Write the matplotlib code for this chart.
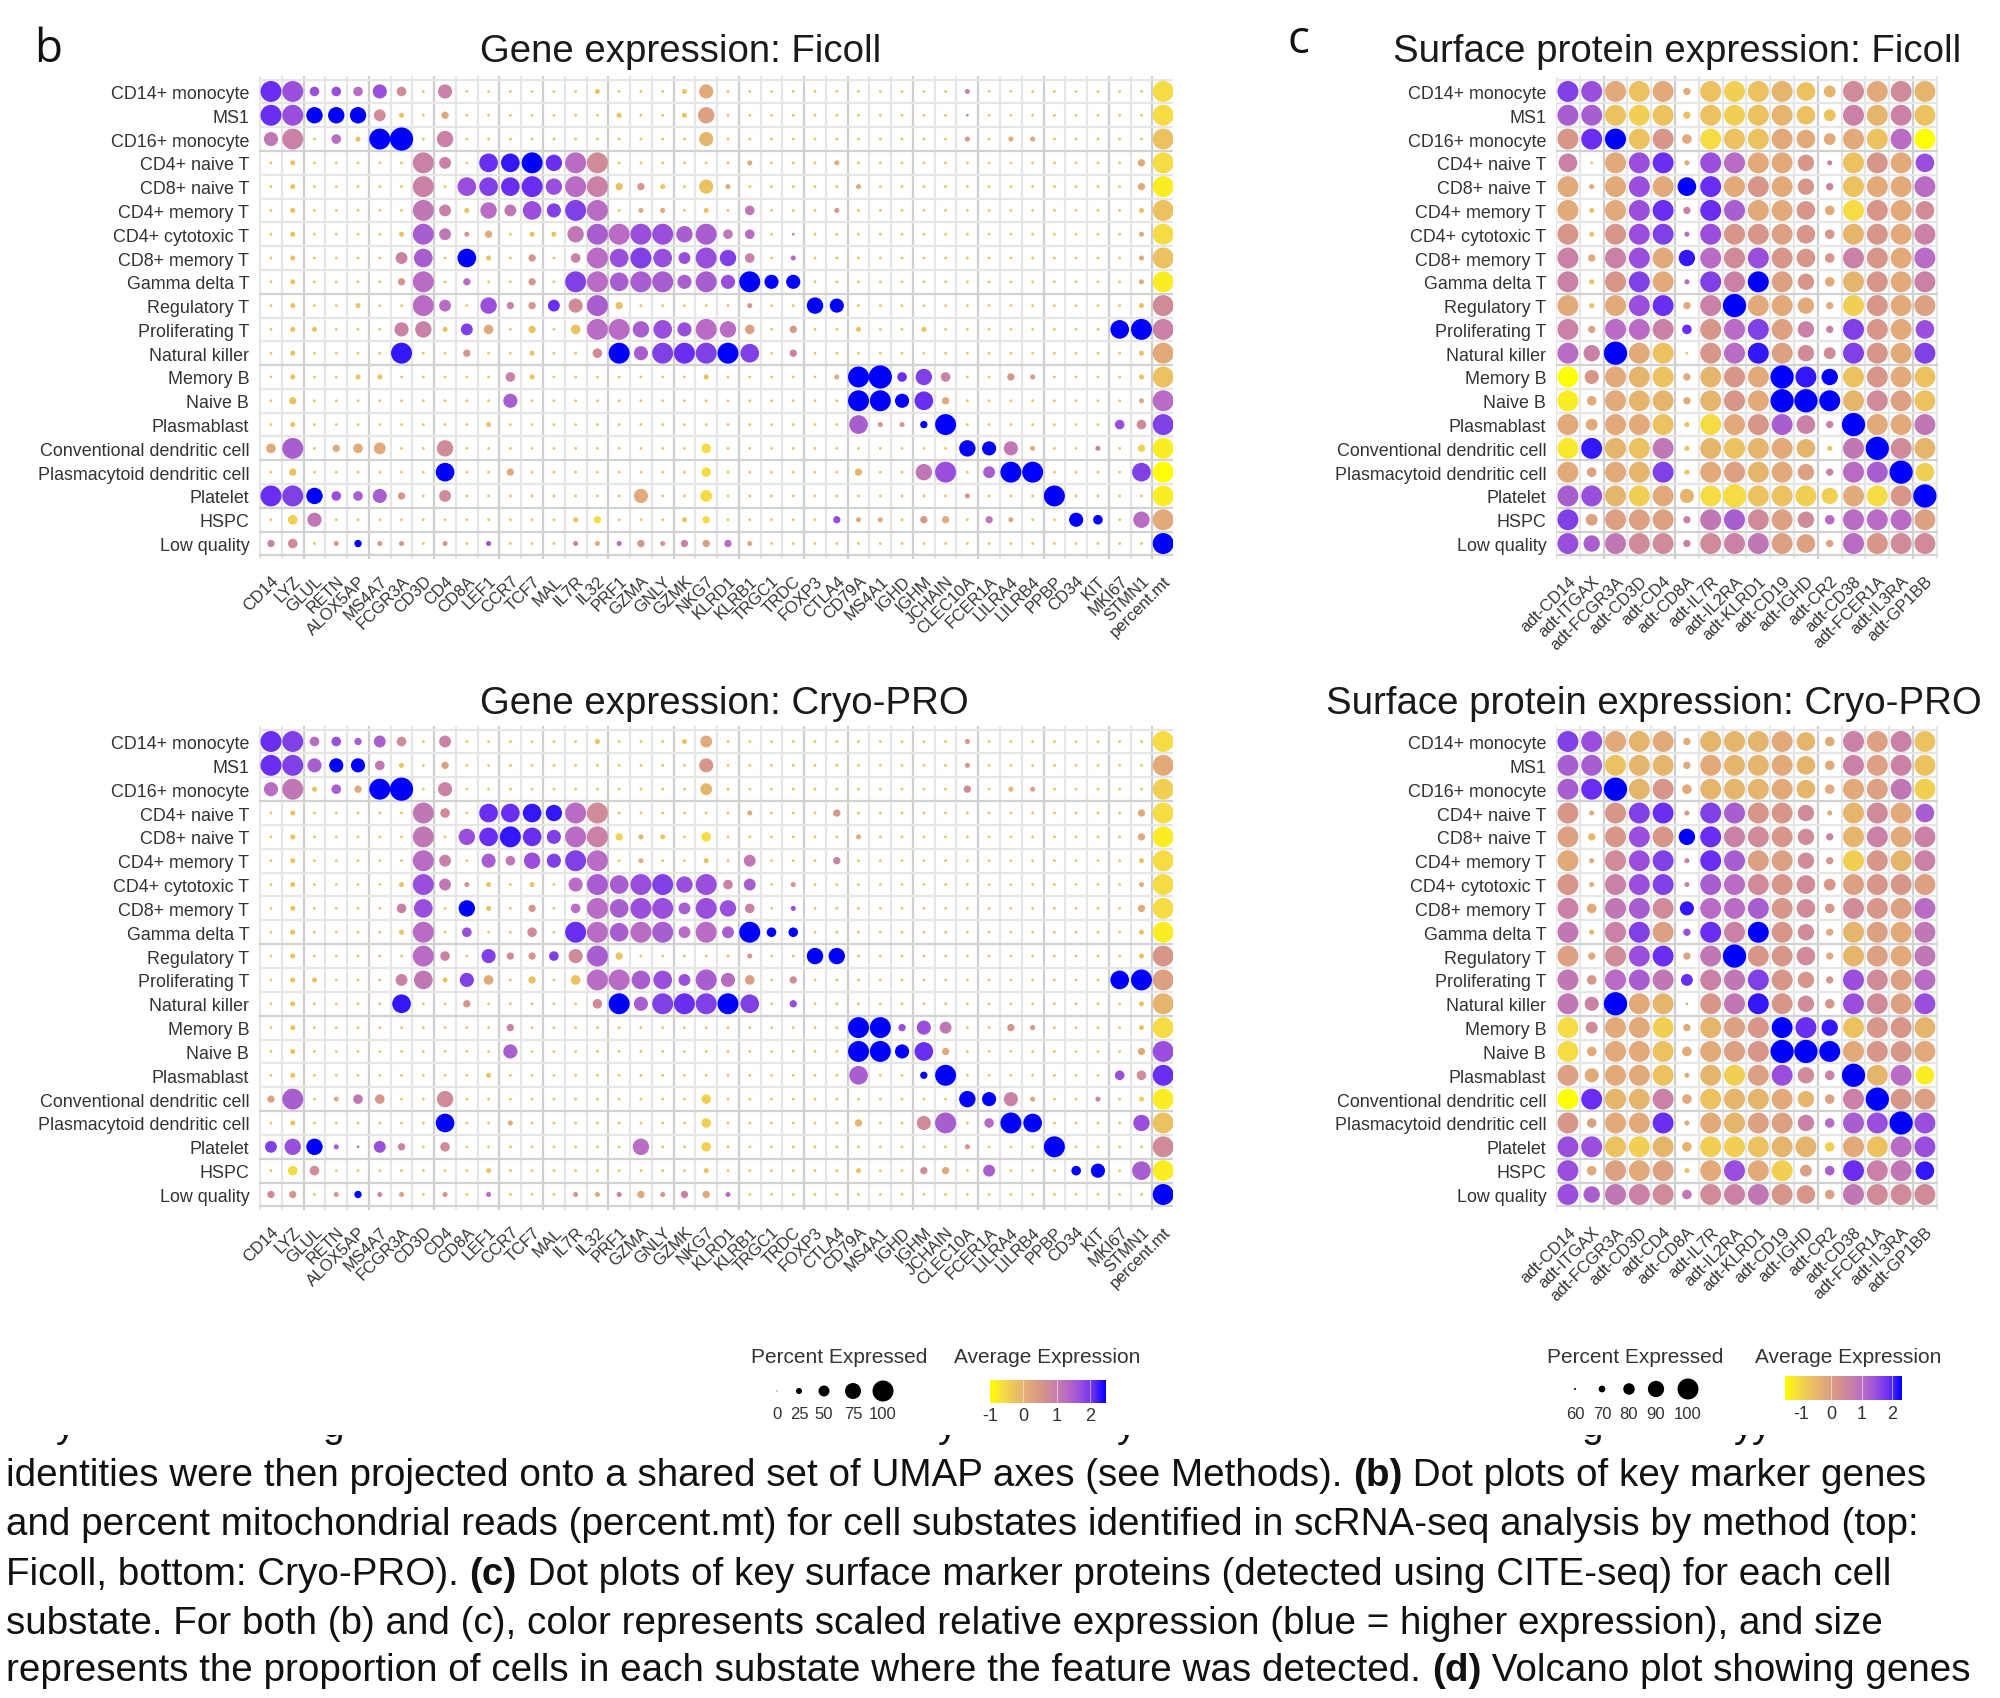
import matplotlib
matplotlib.use("Agg")
import matplotlib.pyplot as plt
import numpy as np
from matplotlib.colors import LinearSegmentedColormap
from matplotlib.transforms import Bbox

W, H = 2000, 1699
plt.rcParams['font.family'] = ['Liberation Sans', 'DejaVu Sans']

cell_types = ["CD14+ monocyte", "MS1", "CD16+ monocyte", "CD4+ naive T", "CD8+ naive T", "CD4+ memory T",
              "CD4+ cytotoxic T", "CD8+ memory T", "Gamma delta T", "Regulatory T", "Proliferating T",
              "Natural killer", "Memory B", "Naive B", "Plasmablast", "Conventional dendritic cell",
              "Plasmacytoid dendritic cell", "Platelet", "HSPC", "Low quality"]
genes = ["CD14", "LYZ", "GLUL", "RETN", "ALOX5AP", "MS4A7", "FCGR3A", "CD3D", "CD4", "CD8A", "LEF1", "CCR7", "TCF7",
         "MAL", "IL7R", "IL32", "PRF1", "GZMA", "GNLY", "GZMK", "NKG7", "KLRD1", "KLRB1", "TRGC1", "TRDC", "FOXP3",
         "CTLA4", "CD79A", "MS4A1", "IGHD", "IGHM", "JCHAIN", "CLEC10A", "FCER1A", "LILRA4", "LILRB4", "PPBP",
         "CD34", "KIT", "MKI67", "STMN1", "percent.mt"]
proteins = ["adt-CD14", "adt-ITGAX", "adt-FCGR3A", "adt-CD3D", "adt-CD4", "adt-CD8A", "adt-IL7R", "adt-IL2RA",
            "adt-KLRD1", "adt-CD19", "adt-IGHD", "adt-CR2", "adt-CD38", "adt-FCER1A", "adt-IL3RA", "adt-GP1BB"]

# Gene panels: per row (gene number, size class 0-9, colour class 0-9); every other cell is a background dot
gene_ficoll = [
 [(1,8,8),(2,8,7),(3,3,7),(4,3,7),(5,3,6),(6,5,7),(7,3,4.5),(9,5,5),(16,1,2),(20,1,2),(21,5,3),(33,1,5),(42,8,1)],
 [(1,8,8),(2,8,7),(3,6,9),(4,6,9),(5,6,9),(6,4,4.5),(7,1,2),(9,2,3),(17,1,2),(20,1,2),(21,6,3.5),(33,0,5),(42,8,1)],
 [(1,5,5.5),(2,8,5),(4,3,6),(5,1,2),(6,8,9),(7,9,9),(9,6,5),(21,5,2.5),(33,1,4),(35,1,3),(36,1,3),(42,8,2)],
 [(2,1,2),(8,8,5),(9,4,5),(11,7,8),(12,7,8.5),(13,8,9),(14,6,8),(15,8,6),(16,8,4.5),(23,1,3),(27,1,3),(41,2,3),(42,8,1)],
 [(2,1,2),(8,8,5),(10,7,7),(11,7,7.5),(12,7,8),(13,8,8),(14,6,7),(15,8,6),(16,8,5),(17,2,2),(18,2,4),(19,1,2),(21,5,2),(22,1,3),(28,1,3),(41,2,3),(42,8,0.5)],
 [(2,1,2),(8,8,5.5),(9,4,5),(10,1,2),(11,6,6),(12,4,5.5),(13,7,7),(14,5,7.5),(15,8,7.5),(16,8,6),(18,1,3),(19,1,3),(21,1,2),(23,3,5.5),(27,1,4),(41,1,2),(42,8,2)],
 [(2,1,2),(7,1,2),(8,8,6.5),(9,4,5.5),(10,1,4),(11,2,3),(13,1,2),(14,1,2),(15,6,5.5),(16,8,6.5),(17,8,6),(18,8,7),(19,8,7),(20,6,6.5),(21,8,6.5),(22,3,5.5),(23,3,6),(25,0,5),(41,1,3),(42,8,1)],
 [(2,1,2),(7,4,5),(8,7,6.5),(10,7,9),(11,1,2),(13,2,4),(15,3,5),(16,8,6),(17,7,7),(18,8,7.5),(19,7,7),(20,4,7),(21,8,7),(22,6,7.5),(23,3,5),(25,1,6),(41,1,3),(42,8,2)],
 [(2,1,2),(7,2,4),(8,8,6),(10,2,6),(13,2,4),(15,8,7.5),(16,8,6),(17,7,6.5),(18,8,6.5),(19,8,6.5),(20,5,6.5),(21,8,6.5),(22,5,7),(23,8,9),(24,5,9),(25,5,9),(41,1,3),(42,8,0.5)],
 [(2,1,2),(5,1,2),(8,8,6),(9,4,6),(11,6,7),(12,2,5),(13,2,4),(14,4,8),(15,5,4.5),(16,8,6.5),(17,2,2),(23,1,4),(26,6,9),(27,5,9),(41,1,2),(42,8,4.5)],
 [(2,1,2),(3,1,2),(7,5,5),(8,6,5),(9,1,2),(10,4,7.5),(11,3,3),(13,2,2),(15,3,2),(16,8,6),(17,8,6),(18,6,6.5),(19,7,7),(20,5,7),(21,8,6),(22,6,6),(23,3,3.5),(25,2,4),(28,1,2),(31,1,2),(40,7,9),(41,8,9),(42,8,5)],
 [(2,1,2),(7,8,8.5),(10,2,4),(13,1,2),(16,3,4.5),(17,8,9),(18,5,6.5),(19,8,7.5),(20,8,8),(21,8,7.5),(22,8,9),(23,7,7.5),(25,2,5),(41,1,2),(42,8,3)],
 [(2,1,2),(5,1,2),(6,1,2),(12,3,5),(13,1,2),(21,1,2),(27,1,3),(28,8,9),(29,9,9),(30,3,8),(31,6,7.5),(32,3,5),(35,2,4),(36,1,4),(41,1,2),(42,8,2)],
 [(2,2,2),(12,5,6.5),(28,8,9),(29,8,9),(30,5,9),(31,7,8),(32,2,3),(41,1,3),(42,8,6)],
 [(2,1,2),(11,1,2),(28,7,6.5),(29,1,4),(30,1,4),(31,2,9),(32,8,9),(40,3,7),(41,3,4.5),(42,8,7.5)],
 [(1,3,3),(2,8,6.5),(4,2,3),(5,3,3),(6,4,3),(9,6,4.5),(21,3,1),(33,6,9),(34,5,9),(35,5,5.5),(36,1,3),(39,1,5),(41,2,1.5),(42,8,0.5)],
 [(2,2,2),(9,7,9),(12,2,3),(21,3,1),(28,2,2.5),(31,6,5.5),(32,8,7),(34,4,6.5),(35,8,9),(36,8,9),(41,7,7.5),(42,8,0)],
 [(1,8,8),(2,8,7.5),(3,6,9),(4,3,7),(5,3,6.5),(6,5,6.5),(7,2,4),(9,4,4.5),(18,5,3),(21,4,1),(33,1,4),(37,8,9),(42,8,0.5)],
 [(2,3,1.5),(3,5,5.5),(15,1,2),(16,2,1),(20,1,2),(21,2,1),(27,2,7),(28,1,3),(29,1,3),(31,2,4),(32,2,3),(34,2,5.5),(35,1,3),(38,5,9),(39,3,9),(41,6,6),(42,8,3)],
 [(1,2,5),(2,3,4.5),(4,1,4),(5,2,9),(6,1,4),(7,1,4),(9,1,4),(11,1,7),(15,1,5),(16,1,3),(17,1,6),(18,2,4),(19,1,4),(20,2,5),(21,2,3.5),(22,2,6),(23,1,3),(42,8,9)],
]
gene_cryo = [
 [(1,8,8),(2,8,7.5),(3,3,6),(4,3,7),(5,2,6.5),(6,4,6.5),(7,3,4.5),(9,4,5),(16,1,2),(20,1,2),(21,4,3),(33,1,4),(42,8,1)],
 [(1,8,8),(2,8,7.5),(3,5,6.5),(4,5,9),(5,5,9),(6,3,5.5),(7,1,2),(9,2,3.5),(21,5,4),(33,1,4),(42,8,3)],
 [(1,5,6),(2,8,5.5),(3,1,2),(4,3,6.5),(5,2,3),(6,8,9),(7,9,9),(9,5,5),(21,4,2.5),(33,2,4.5),(35,1,2.5),(36,1,3.5),(42,8,1.5)],
 [(2,1,2),(8,8,5.5),(9,3,4.5),(11,7,8),(12,7,8),(13,7,8.5),(14,6,8.5),(15,8,6),(16,8,4.5),(23,1,3),(27,2,4),(41,2,3),(42,8,1)],
 [(2,1,2),(8,8,5.5),(10,6,7),(11,7,8),(12,8,8.5),(13,7,8),(14,5,7.5),(15,8,6),(16,8,5),(17,2,1.5),(18,1,2.5),(19,1,2),(21,3,1),(28,1,3),(41,2,3),(42,8,0.5)],
 [(2,1,2),(8,8,6),(9,4,5),(11,5,6.5),(12,3,5.5),(13,6,7),(14,5,7.5),(15,8,7.5),(16,8,6),(18,1,3),(21,1,2),(23,4,5.5),(27,2,5),(41,1,2),(42,8,1)],
 [(2,1,2),(7,1,2),(8,8,7),(9,4,5.5),(10,1,4),(11,1,2),(13,1,2),(15,5,6),(16,8,6.5),(17,7,6.5),(18,8,7),(19,8,7.5),(20,6,7),(21,8,7),(22,3,5),(23,4,6.5),(25,1,4),(41,1,3),(42,8,1)],
 [(2,1,2),(7,3,5),(8,7,7),(10,6,9),(11,1,2),(13,2,4),(15,3,6),(16,8,6),(17,7,6.5),(18,8,7),(19,8,7),(20,4,6.5),(21,8,7),(22,6,7),(23,3,5),(25,1,7),(41,2,3),(42,8,1)],
 [(2,1,2),(7,1,2),(8,8,6),(10,3,7),(13,3,4.5),(15,8,8),(16,8,6),(17,7,6.5),(18,8,6),(19,8,6.5),(20,4,6),(21,8,6),(22,4,6.5),(23,8,9),(24,3,9),(25,3,9),(41,1,2),(42,8,0.5)],
 [(2,1,2),(8,8,6),(9,3,5),(11,5,7.5),(12,2,4.5),(13,2,4),(14,3,7.5),(15,5,4.5),(16,8,6.5),(17,2,2),(23,1,4),(26,6,9),(27,6,9),(41,1,2),(42,8,4)],
 [(2,1,2),(3,1,2),(7,4,5),(8,7,5.5),(9,1,2),(10,5,7.5),(11,3,3),(13,2,2),(15,3,2),(16,8,6),(17,8,6),(18,7,6.5),(19,7,7),(20,4,7),(21,8,6.5),(22,5,6),(23,3,3.5),(25,2,4.5),(40,7,9),(41,8,9),(42,8,3.5)],
 [(2,1,2),(7,7,8.5),(10,2,4),(16,3,4.5),(17,8,9),(18,5,6.5),(19,8,7.5),(20,8,8),(21,8,7.5),(22,8,9),(23,7,7.5),(25,2,7),(41,1,2),(42,8,2.5)],
 [(2,1,2),(12,2,5),(28,8,9),(29,8,9),(30,2,7),(31,5,7),(32,4,5.5),(35,2,4),(36,1,4),(41,1,2),(42,8,1)],
 [(2,1,2),(12,5,6.5),(28,8,9),(29,8,9),(30,5,9),(31,7,8),(32,2,3),(41,2,3),(42,8,7)],
 [(2,1,2),(11,1,2),(28,7,6.5),(31,2,9),(32,8,9),(40,3,7),(41,3,4.5),(42,8,8)],
 [(1,2,3.5),(2,8,6.5),(4,1,3),(5,3,5.5),(6,3,4),(9,6,4.5),(21,3,1.5),(33,6,9),(34,5,9),(35,5,5),(36,1,3),(39,1,5),(41,1,1.5),(42,8,0.5)],
 [(2,1,2),(9,7,9),(12,1,3),(21,3,1.5),(28,2,2.5),(31,5,4.5),(32,8,6.5),(34,3,6),(35,8,9),(36,7,9),(41,6,7),(42,8,2)],
 [(1,4,7.5),(2,6,7),(3,6,9),(4,1,6.5),(5,0,5),(6,4,7),(7,2,5),(9,3,4.5),(18,6,6),(21,3,1.5),(33,1,4),(37,8,9),(42,8,4.5)],
 [(2,3,1),(3,3,4.5),(11,1,2),(21,1,2),(28,1,2),(31,2,4.5),(32,2,3),(34,4,6.5),(38,3,9),(39,5,9),(41,7,6.5),(42,8,0.5)],
 [(1,2,4.5),(2,2,4),(4,1,4),(5,2,9),(6,1,4.5),(7,1,3.5),(9,1,4),(11,1,6),(15,1,4),(16,1,3),(17,1,5),(18,2,3),(19,1,4),(20,2,5),(21,2,3),(22,1,6),(42,8,9)],
]

# Protein panels: one row per cell type, 16 size classes and 16 colour classes
prot_ficoll_size = [
 [8,8,8,8,8,2,8,8,8,8,7,4,8,8,8,8],[8,8,8,8,8,2,8,8,8,8,7,4,8,8,8,8],[8,8,8,8,8,3,8,8,8,8,7,4,8,8,8,8],
 [7,0,8,8,8,1,8,8,8,8,6,1,8,8,8,7],[8,1,8,8,8,7,8,8,8,8,6,2,8,8,8,8],[8,1,8,8,8,2,8,8,8,8,7,3,8,8,8,7],
 [8,1,8,8,8,1,8,8,8,8,7,3,8,8,8,8],[8,2,8,8,8,6,8,8,8,8,7,3,8,8,8,8],[8,1,8,8,8,1,8,8,8,8,6,3,8,8,8,8],
 [8,1,8,8,8,2,8,9,8,8,6,2,8,8,8,8],[8,2,8,8,8,3,8,8,8,8,6,2,8,8,8,7],[8,6,9,8,8,0,8,8,8,8,6,4,8,8,8,8],
 [8,5,8,8,8,2,8,8,8,9,8,6,8,8,8,8],[8,3,8,8,8,2,8,8,8,9,9,8,8,8,8,8],[8,4,8,8,8,1,8,8,8,8,7,2,9,8,8,8],
 [8,8,8,8,8,1,8,8,8,8,7,1,8,9,8,8],[8,3,8,8,8,1,8,8,8,8,6,2,8,8,9,7],[8,8,8,8,8,5,8,9,8,8,8,6,8,8,8,9],
 [8,4,8,8,8,2,8,8,8,8,6,3,8,8,8,8],[8,6,8,8,8,2,8,8,8,8,7,2,8,8,8,8]]
prot_ficoll_color = [
 [7.5,7,3,2,3,3,2,1.5,2,2.5,2,2.5,4.5,3,4.5,2.5],[6.5,6.5,2,1.5,2,2,2,1.5,2,2.5,2,2,5,2.5,5,2],
 [4,8,9,2,4,3,1,2,2,3,3,3,3,2,6,0],[5,2,3,7,8,3,7,6,3,3,4,5,2,4,3,7],[3,3,3,7,3,9,8,3,4,3,4,5,2,3,3,6],
 [3,2,3,7,8,5,8,6.5,3,3,4,3,1,4,3,4.5],[4,2,4,7,7.5,6,7,4,4,3.5,4,4,2.5,4,3,5],[5,3,5,7,3,8.5,6,4.5,7,4,4,4,5,4,3,6],
 [5,2,4,7.5,3,6,7.5,5,9,3.5,4,3,2.5,4,3,5],[3,2,3,7,8,3,5,9,3,3,3,3,1.5,4,3,3.5],[5,3.5,6,6,5,8,4,6,7.5,3.5,5,5,7.5,4,3,7],
 [6,5,9,3,2,2,4,6,8.5,3.5,4.5,4.5,7.5,4,3,7.5],[0,4,3,2.5,2,3,2.5,4,3,9,8.5,9,2,4,3,2],[0.5,3,3,2.5,2.5,3,2.5,4,3,9,9,9,2.5,4.5,3.5,2],
 [3,3,3,3,2,2,1,3,4,6.5,5,5,9,3,3,5.5],[0.7,8.5,2.5,2,5.5,2,2.5,2,2.5,3,2.5,2,5.5,9,4.5,2.5],[3,3.5,3,2.5,7.5,2,3,3.5,2.5,3,3.5,5,6,6.5,9,1.5],
 [6.5,7,2.5,1.5,3,2.5,1,1,2,2,1.5,1.5,3,1,4,9],[7.5,3.5,3.5,3.5,3.5,5,5.5,6.5,4.5,3.5,4.5,6,6,6,6,3.5],[7,6.5,5.5,4.5,4.5,5,4.5,5,5.5,3.5,3.5,3.5,6,4,4.5,4.5]]
prot_cryo_size = [
 [8,8,8,8,8,2,8,8,8,8,7,3,8,8,8,8],[8,8,8,8,8,2,8,8,8,8,7,3,8,8,8,8],[8,8,9,8,8,3,8,8,8,8,7,3,8,8,8,8],
 [8,1,8,8,8,1,8,8,8,8,6,1,8,8,8,7],[8,2,8,8,8,6,8,8,8,8,6,2,8,8,8,8],[8,1,8,8,8,1,8,8,8,8,6,2,8,8,8,8],
 [8,1,8,8,8,1,8,8,8,8,7,4,8,8,8,8],[8,3,8,8,8,5,8,8,8,8,7,3,8,8,8,8],[8,1,8,8,8,2,8,8,8,8,6,2,8,8,8,8],
 [8,2,8,8,8,2,8,9,8,8,7,2,8,8,8,8],[8,3,8,8,8,4,8,8,8,8,6,2,8,8,8,8],[8,5,9,8,8,0,8,8,8,8,6,3,8,8,8,8],
 [8,4,8,8,8,2,8,8,8,8,8,6,8,8,8,8],[8,3,8,8,8,3,8,8,8,9,9,8,8,8,8,8],[8,5,8,8,8,1,8,8,8,8,6,3,9,8,8,7],
 [8,8,8,8,8,3,8,8,8,8,6,3,8,9,8,8],[8,3,8,8,8,1,8,8,8,8,6,3,8,8,9,8],[8,8,8,8,8,3,8,8,8,8,8,3,8,8,8,8],
 [8,3,8,8,8,1,8,8,8,8,4,3,8,8,8,7],[8,6,8,8,8,3,8,8,8,8,7,3,8,8,8,8]]
prot_cryo_color = [
 [7.5,7,3,2.5,3,3,2.5,2.5,2.5,3,2.5,3,5,3.5,5,2],[6.5,6.5,2,2.5,2.5,3,3,2.5,2.5,3,2.5,3,5,3.5,5,2],
 [6.5,8,9,2.5,4,3,2.5,2.5,2.5,3,2.5,3,3,3.5,5.5,1.5],[4,3,4,7.5,8,4,7.5,6.5,4,4,4.5,3,2.5,4.5,3,6.5],
 [3.5,2.5,4,7,4,9,8,5,4.5,4,4.5,5,2.5,5,3,5],[3,3,4.5,7,7.5,5,8,6.5,3.5,3.5,4.5,4,1.5,4,2.5,5],
 [4,3,5,7,7.5,5,6.5,6,4.5,4,4.5,4,3.5,4,4,3.5],[5,3,5.5,6.5,4.5,8.5,6,6,6.5,4,4.5,4,4.5,4,3.5,6],
 [5.5,2.5,5,7.5,3.5,7,8,5,9,4,4.5,3,2.5,3.5,3,5.5],[3.5,3,4.5,7,8,3.5,5.5,9,4,4,4.5,3,2.5,3.5,3,5.5],
 [5.5,4,6,6.5,5.5,8,5,5.5,7.5,4,4,4,7,4.5,3.5,6],[5.5,5,9,3,2.5,3,4,5.5,8.5,4,4.5,4,7,4.5,3.5,7],
 [1,4.5,3,3,1.5,3,2.5,3.5,4,9,8,8.5,2,4,4,2.5],[1,3,3,3,2,3,3,3.5,4,9,9,9,3,4,4,3],
 [3.5,3,3,3,2,3,2.5,1.5,3.5,7,4.5,5,9,2.5,6,0.5],[0,8,2.5,2.5,5,3,2,2.5,2.5,3,2.5,3.5,5,9,4,3.5],
 [4,3.5,3,3,8,3,3,2.5,3.5,3.5,5,6,6.5,7,9,7],[7,7,2,1.5,2.5,2.5,1.5,1.5,2,2.5,2.5,1.5,3,2,6,7],
 [7,3,3.5,3,3.5,2,3,7,3,1.5,3.5,6.5,8,5,5.5,8.5],[7,6.5,5.5,5,4.5,5.5,4.5,5,5.5,4,4,3.5,5.5,4.5,4.5,4.5]]

legend_pct_gene = [0, 25, 50, 75, 100]
legend_pct_prot = [60, 70, 80, 90, 100]
cbar_ticks = [-1, 0, 1, 2]

caption = [
 [("identities were then projected onto a shared set of UMAP axes (see Methods). ", 0), ("(b)", 1), (" Dot plots of key marker genes", 0)],
 [("and percent mitochondrial reads (percent.mt) for cell substates identified in scRNA-seq analysis by method (top:", 0)],
 [("Ficoll, bottom: Cryo-PRO). ", 0), ("(c)", 1), (" Dot plots of key surface marker proteins (detected using CITE-seq) for each cell", 0)],
 [("substate. For both (b) and (c), color represents scaled relative expression (blue = higher expression), and size", 0)],
 [("represents the proportion of cells in each substate where the feature was detected. ", 0), ("(d)", 1), (" Volcano plot showing genes", 0)],
]
# descenders of the caption line that is cropped off above the visible text
cropped_letters = [(56, "y"), (322, "g"), (938, "y"), (1117, "y"), (1581, "g"), (1734, "y"), (1752, "y")]

cmap = LinearSegmentedColormap.from_list("ye", ["#FFFF00", "#F5DC45", "#EBC160", "#E2A97A", "#D6968A",
                                                "#C982A6", "#B86CC4", "#9A50DC", "#6A2FF0", "#0000FF"])
TXT = "#333333"
dpi = 100
fig = plt.figure(figsize=(W / dpi, H / dpi), dpi=dpi, facecolor="white")


def axpx(x0, y0, x1, y1, **kw):
    return fig.add_axes([x0 / W, 1 - y1 / H, (x1 - x0) / W, (y1 - y0) / H], **kw)


def dia(cls):
    return 2.8 + 2.27 * cls


def s_of(d_px):
    return (d_px * 72 / dpi) ** 2


def frame(ax, xlim, ylim, xlabels, dark_v, dark_h, fs_x):
    n, m = len(xlabels), len(cell_types)
    ax.set_xlim(*xlim)
    ax.set_ylim(*ylim)
    ax.set_axisbelow(True)
    for v in np.arange(0.5, n + 1):
        ax.axvline(v, color="#CFCFCF" if v in dark_v else "#E6E6E6", lw=1.6, zorder=0)
    for h in np.arange(-0.5, m):
        ax.axhline(h, color="#D2D2D2" if h in dark_h else "#E6E6E6", lw=1.6, zorder=0)
    for sp in ax.spines.values():
        sp.set_visible(False)
    ax.set_yticks(range(m), cell_types, fontsize=12.9, color=TXT)
    ax.set_xticks(range(1, n + 1), xlabels, rotation=45, ha="right", va="top",
                  rotation_mode="anchor", fontsize=fs_x, color=TXT)
    ax.tick_params(length=0, axis="y", pad=7)
    ax.tick_params(length=0, axis="x", pad=10)


gene_dark_v = [2.5, 5.5, 8.5, 11.5, 13.5, 16.5, 19.5, 22.5, 25.5, 27.5, 30.5, 33.5, 36.5, 39.5, 41.5]
gene_dark_h = [2.5, 8.5, 11.5, 15.5, 17.5, 18.5, 19.5]
prot_dark_v = [2.5, 5.5, 11.5, 15.5]


def gene_panel(rows, top, bottom):
    ax = axpx(259, top, 1173, bottom)
    frame(ax, (0.45, 42.45), (19.65, -0.65), genes, gene_dark_v, gene_dark_h, 12)
    X, Y, S, C = [], [], [], []
    for r, row in enumerate(rows):
        d = {t[0]: t for t in row}
        for c in range(1, 43):
            _, sz, col = d.get(c, (c, 0, 2))
            X.append(c); Y.append(r); S.append(s_of(dia(sz))); C.append(col)
    ax.scatter(X, Y, s=S, c=C, cmap=cmap, vmin=0, vmax=9, linewidths=0, zorder=3)


def prot_panel(size, color, top, bottom):
    ax = axpx(1556, top, 1938, bottom)
    frame(ax, (0.5, 16.55), (19.65, -0.65), proteins, prot_dark_v, gene_dark_h, 12)
    X, Y, S, C = [], [], [], []
    for r in range(20):
        for c in range(16):
            X.append(c + 1); Y.append(r); S.append(s_of(dia(size[r][c]))); C.append(color[r][c])
    ax.scatter(X, Y, s=S, c=C, cmap=cmap, vmin=0, vmax=9, linewidths=0, zorder=3)


gene_panel(gene_ficoll, 77, 560)
gene_panel(gene_cryo, 727, 1211)
prot_panel(prot_ficoll_size, prot_ficoll_color, 77, 560)
prot_panel(prot_cryo_size, prot_cryo_color, 727, 1211)


def ftext(x, y, s, **kw):
    return fig.text(x / W, 1 - y / H, s, **kw)


for x, y, s in [(681, 52, "Gene expression: Ficoll"), (724, 704, "Gene expression: Cryo-PRO"),
                (1677, 52, "Surface protein expression: Ficoll"), (1654, 704, "Surface protein expression: Cryo-PRO")]:
    ftext(x, y, s, fontsize=27.6, ha="center", va="center", color="#1a1a1a")
ftext(48, 50, "b", fontsize=33, ha="center", va="center", color="#111111", family=["Open Sans", "DejaVu Sans"])
ftext(1298, 41, "c", fontsize=33, ha="center", va="center", color="#111111", family=["Open Sans", "DejaVu Sans"])


def size_legend(pcts, xs, yc, ylab, cx, dmap):
    ftext(cx, 1358, "Percent Expressed", fontsize=15, ha="center", va="center", color=TXT)
    ax = axpx(xs[0] - 15, yc - 15, xs[-1] + 15, yc + 15)
    ax.set_xlim(xs[0] - 15, xs[-1] + 15)
    ax.set_ylim(-15, 15)
    ax.axis("off")
    ax.scatter(xs, [0] * len(xs), s=[s_of(dmap(p)) for p in pcts], c="black", linewidths=0)
    for x, p in zip(xs, pcts):
        ftext(x, ylab, str(p), fontsize=12, ha="center", va="center", color=TXT)


def cbar_legend(x0, x1, y0, y1, vmin, vmax, cx, ylab):
    ftext(cx, 1358, "Average Expression", fontsize=15, ha="center", va="center", color=TXT)
    ax = axpx(x0, y0, x1, y1)
    ax.imshow(np.linspace(0, 1, 256)[None, :], aspect="auto", cmap=cmap, extent=(vmin, vmax, 0, 1))
    ax.set_yticks([])
    ax.set_xticks(cbar_ticks, ["-1", "0", "1", "2"], fontsize=13, color=TXT)
    ax.tick_params(length=0, pad=(ylab - y1) * 72 / dpi - 8)
    for t in cbar_ticks[1:]:
        ax.axvline(t, color="white", lw=0.8, alpha=0.5)
    for sp in ax.spines.values():
        sp.set_visible(False)


size_legend(legend_pct_gene, [777, 799, 824, 853, 883], 1392, 1415, 839, lambda p: 1 + 0.2 * p)
size_legend(legend_pct_prot, [1575, 1602, 1629, 1656, 1688], 1390, 1415, 1635, lambda p: 2 + (p - 60) / 40 * 19)
cbar_legend(990, 1106, 1381, 1404, -1.0, 2.47, 1047, 1419)
cbar_legend(1785, 1902, 1377, 1401, -1.53, 2.33, 1848, 1417)

# caption with bold pieces
fig.canvas.draw()
rend = fig.canvas.get_renderer()
CAP = 27.85


def adv(s, weight):
    t = fig.text(0, 0, s + ".", fontsize=CAP, weight=weight)
    a = t.get_window_extent(rend).width
    t.set_text(".")
    a -= t.get_window_extent(rend).width
    t.remove()
    return a


for line, y in zip(caption, [1476, 1525, 1575, 1624, 1671]):
    x = 6
    for s, b in line:
        w = "bold" if b else "normal"
        fig.text(x / W, 1 - y / H, s, fontsize=CAP, weight=w, va="center", ha="left", color="#111111")
        x += adv(s, w)

clip = Bbox.from_extents(0, H - 1452, W, H - 1436)
for x, s in cropped_letters:
    t = fig.text(x / W, 1 - 1427 / H, s, fontsize=CAP, va="center", ha="left", color="#111111")
    t.set_clip_box(clip)
    t.set_clip_on(True)

fig.savefig("out.png", dpi=dpi, facecolor="white")
